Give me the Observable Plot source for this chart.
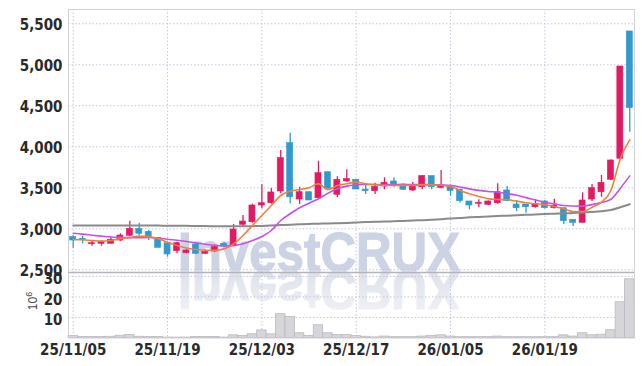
<!DOCTYPE html>
<html><head><meta charset="utf-8">
<script src="https://cdn.jsdelivr.net/npm/d3@7"></script>
<script src="https://cdn.jsdelivr.net/npm/@observablehq/plot@0.6"></script>
<style>
body{margin:0;background:#fff;}
#wrap{position:relative;width:642px;height:366px;overflow:hidden;}
#wm{position:absolute;left:0;top:0;}
#charts{position:absolute;left:0;top:0;}
#charts svg{display:block;background:transparent;}
</style></head><body>
<div id="wrap">
<svg id="wm" width="642" height="366">
  <defs>
    <linearGradient id="fade" gradientUnits="userSpaceOnUse" x1="0" y1="271" x2="0" y2="232">
      <stop offset="0" stop-color="#dde1eb"/>
      <stop offset="1" stop-color="#eff0f5"/>
    </linearGradient>
  </defs>
  <text x="178" y="271" font-family="Liberation Sans, Arial, sans-serif" font-weight="bold" font-size="55" fill="#ccd3e4" stroke="#ccd3e4" stroke-width="1.2" textLength="282" lengthAdjust="spacingAndGlyphs">InvestCRUX</text>
  <text x="178" y="271" transform="matrix(1,0,0,-1,0,542)" font-family="Liberation Sans, Arial, sans-serif" font-weight="bold" font-size="55" fill="url(#fade)" stroke="url(#fade)" stroke-width="1.2" textLength="282" lengthAdjust="spacingAndGlyphs">InvestCRUX</text>
</svg>
<div id="charts"></div>
</div>
<script>
const dates = ["25/11/05","25/11/06","25/11/07","25/11/10","25/11/11","25/11/12","25/11/13","25/11/14","25/11/17","25/11/18",
"25/11/19","25/11/20","25/11/21","25/11/24","25/11/25","25/11/26","25/11/27","25/11/28","25/12/01","25/12/02",
"25/12/03","25/12/04","25/12/05","25/12/08","25/12/09","25/12/10","25/12/11","25/12/12","25/12/15","25/12/16",
"25/12/17","25/12/18","25/12/19","25/12/22","25/12/23","25/12/24","25/12/26","25/12/29","25/12/30","26/01/02",
"26/01/05","26/01/06","26/01/07","26/01/08","26/01/09","26/01/12","26/01/13","26/01/14","26/01/15","26/01/16",
"26/01/19","26/01/20","26/01/21","26/01/22","26/01/23","26/01/26","26/01/27","26/01/28","26/01/29","26/01/30"];

const open = [2898,2878,2812,2817,2817,2857,2915,3000,2963,2890, 2824,2727,2703,2808,2695,2723,2817,2796,3049,3080, 3284,3312,3455,4044,3357,3446,3373,3690,3415,3577, 3598,3479,3459,3516,3577,3540,3467,3507,3642,3500, 3507,3479,3333,3305,3293,3312,3467,3296,3296,3263, 3333,3251,3251,3110,3073,3357,3446,3598,3854,5406];
const high = [2918,2906,2855,2855,2898,2939,3093,3068,2979,2894, 2824,2837,2745,2812,2740,2800,2833,3053,3162,3300, 3537,3492,3955,4166,3507,3446,3824,3690,3635,3720, 3598,3540,3554,3622,3622,3549,3565,3650,3642,3711, 3507,3479,3333,3354,3340,3549,3516,3345,3296,3354, 3345,3360,3251,3110,3439,3540,3650,3840,4979,5406];
const low = [2763,2817,2788,2788,2817,2845,2906,2918,2857,2768, 2654,2695,2695,2690,2686,2715,2776,2784,3020,3069, 3244,3300,3427,3305,3296,3345,3366,3488,3379,3565, 3479,3418,3418,3476,3507,3466,3455,3476,3476,3488, 3398,3313,3231,3256,3280,3300,3330,3211,3190,3252, 3240,3240,3053,3028,3073,3333,3385,3590,3850,4178];
const close = [2857,2866,2824,2841,2866,2918,3000,2939,2898,2768, 2687,2824,2735,2695,2715,2776,2784,2991,3089,3284, 3312,3443,3861,3385,3446,3345,3678,3488,3598,3605, 3479,3459,3510,3561,3528,3476,3516,3642,3507,3528, 3459,3337,3284,3317,3333,3446,3337,3251,3263,3305, 3251,3284,3093,3073,3345,3495,3561,3833,4979,4471];
const volume = [1.0,0.5,0.5,0.5,0.6,1.1,1.5,0.6,0.5,0.5, 0.2,0.2,0.2,0.5,0.5,0.5,0.2,1.3,1.0,1.8, 3.7,1.8,11.6,10.2,2.3,1.0,6.2,2.3,1.4,1.4, 0.9,0.6,0.3,0.7,0.4,0.4,0.4,0.7,1.0,1.3, 0.7,0.4,0.4,0.4,0.4,0.7,0.4,0.4,0.4,0.4, 0.4,0.4,1.3,0.7,2.3,1.3,1.6,3.8,17.4,28.6];
const maShort = [2870,2866,2857,2849,2857,2878,2895,2910,2905,2880, 2835,2796,2765,2747,2738,2738,2755,2817,2918,3040, 3162,3284,3406,3459,3479,3500,3549,3476,3528,3549, 3569,3549,3537,3528,3528,3530,3530,3535,3535,3530, 3516,3467,3427,3394,3366,3357,3354,3337,3317,3305, 3293,3272,3244,3211,3211,3263,3324,3467,3854,4085];
const maMid = [2945,2935,2922,2910,2900,2895,2892,2892,2893,2888, 2872,2860,2845,2828,2812,2800,2790,2795,2818,2857, 2906,2979,3101,3183,3256,3312,3366,3434,3488,3520, 3537,3540,3540,3540,3540,3540,3540,3540,3538,3535, 3530,3510,3487,3468,3455,3446,3428,3410,3380,3352, 3324,3305,3284,3278,3276,3295,3320,3360,3495,3645];
const maLong = [3040,3040,3040,3040,3040,3040,3040,3040,3040,3039, 3038,3037,3036,3035,3033,3032,3031,3030,3030,3032, 3035,3040,3045,3050,3055,3059,3062,3065,3068,3072, 3078,3082,3085,3088,3092,3096,3100,3105,3110,3117, 3125,3132,3140,3145,3150,3155,3160,3165,3170,3175, 3180,3184,3188,3193,3198,3206,3215,3230,3262,3300];
const priceTicks = [2500,3000,3500,4000,4500,5000,5500];
const volumeTicks = [10,20,30];
const dateTickIndex = [0,10,20,30,40,50];

const UP = "#e21a64", DOWN = "#3399cc";
const GRID = "#c4c6dc", FRAME = "#cfd0d8", SEP = "#b4b4bc";
const FONT = '"Liberation Sans Narrow", "DejaVu Sans Condensed", "Roboto Condensed", sans-serif';

const rows = dates.map((d, i) => ({i, date: d, open: open[i], high: high[i], low: low[i], close: close[i],
  volume: volume[i], s: maShort[i], m: maMid[i], l: maLong[i], col: close[i] >= open[i] ? UP : DOWN}));

const xDomain = [-0.5, dates.length - 0.5];
const common = {width: 642, marginLeft: 68, marginRight: 8,
  style: {background: "transparent", fontFamily: FONT, fontSize: "15px", fontWeight: "bold", color: "#2a2a2a", overflow: "visible"}};
const dotted = {stroke: GRID, strokeOpacity: 1, strokeDasharray: "1.5,2", strokeWidth: 1};

const price = Plot.plot({
  ...common, height: 272, marginTop: 9, marginBottom: 0,
  x: {domain: xDomain, axis: null},
  y: {domain: [2467, 5674], axis: null},
  marks: [
    Plot.gridY(priceTicks, dotted),
    Plot.gridX(dateTickIndex, dotted),
    Plot.frame({stroke: FRAME}),
    Plot.axisY(priceTicks, {tickSize: 0, tickPadding: 6, dy: 1.5, tickFormat: d3.format(","), fill: "#2a2a2a", label: null}),
    Plot.ruleX(rows, {x: "i", y1: "low", y2: "high", stroke: "col", strokeWidth: 1.3}),
    Plot.rect(rows, {x1: d => d.i - 0.32, x2: d => d.i + 0.32, y1: "open", y2: "close", fill: "col", stroke: "col", strokeWidth: 0.6}),
    Plot.line(rows, {x: "i", y: "l", stroke: "#8a8a8a", strokeWidth: 2, curve: "monotone-x"}),
    Plot.line(rows, {x: "i", y: "m", stroke: "#c850e6", strokeWidth: 1.6, curve: "monotone-x"}),
    Plot.line(rows, {x: "i", y: "s", stroke: "#ee8040", strokeWidth: 1.6, curve: "monotone-x"}),
    Plot.ruleY([2467], {stroke: SEP, strokeWidth: 1.5})
  ]
});

const vol = Plot.plot({
  ...common, height: 94, marginTop: 0, marginBottom: 28.5,
  x: {domain: xDomain, axis: null},
  y: {domain: [0, 31.9], axis: null},
  marks: [
    Plot.gridY(volumeTicks, dotted),
    Plot.gridX(dateTickIndex, dotted),
    Plot.rect(rows, {x1: d => d.i - 0.5, x2: d => d.i + 0.5, y1: 0, y2: "volume", fill: "#d6d6da", stroke: "#b9b9bf", strokeWidth: 0.8}),
    Plot.frame({stroke: FRAME}),
    Plot.ruleY([31.9], {stroke: SEP, strokeWidth: 1}),
    Plot.axisY(volumeTicks, {tickSize: 0, tickPadding: 6, dy: 3, fill: "#2a2a2a", label: null}),
    Plot.axisX(dateTickIndex, {tickSize: 0, tickPadding: 6, tickFormat: i => dates[i], fill: "#2a2a2a", label: null})
  ]
});

const charts = document.getElementById("charts");
charts.append(price, vol);

// unit label 10^6 on the volume panel
d3.select(vol).append("text")
  .attr("transform", "translate(36.5,29) rotate(-90)")
  .attr("text-anchor", "middle")
  .attr("font-family", "Liberation Sans, Arial, sans-serif")
  .attr("font-weight", "normal")
  .attr("font-size", 12)
  .attr("fill", "#444")
  .call(t => { t.append("tspan").text("10"); t.append("tspan").attr("dy", -5).attr("font-size", 9).text("6"); });
</script>
</body></html>
